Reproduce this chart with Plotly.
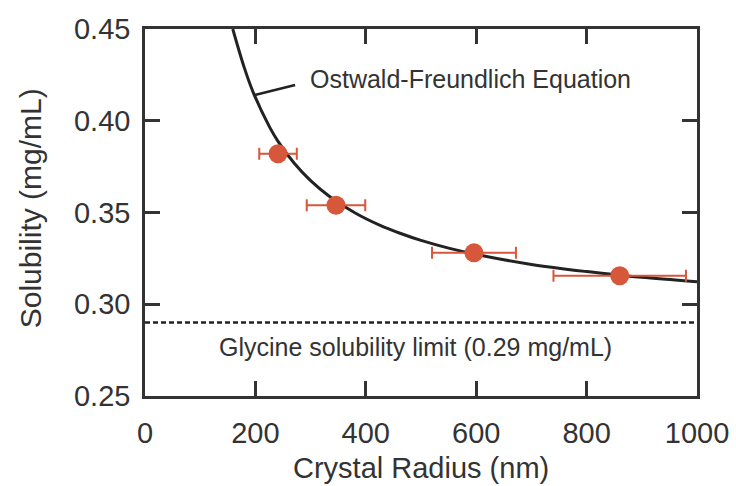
import plotly.graph_objects as go

# Measured data points (crystal radius in nm, solubility in mg/mL)
radius = [241, 346, 596, 860]
solubility = [0.382, 0.354, 0.328, 0.3155]
radius_err = [34, 53, 76, 120]

# Ostwald-Freundlich curve
curve_r = [159, 180, 196, 226, 241, 270, 300, 335, 380, 426, 462, 500, 550, 601, 700, 800, 860, 900, 1000]
curve_s = [0.450, 0.4288, 0.4155, 0.3964, 0.3888, 0.377, 0.3674, 0.3586, 0.3499, 0.343, 0.3387,
           0.3348, 0.3306, 0.3271, 0.3217, 0.3178, 0.3159, 0.3147, 0.3123]

limit_value = 0.29
limit_x = [0, 1000]

x_ticks = [0, 200, 400, 600, 800, 1000]
y_ticks = [0.25, 0.30, 0.35, 0.40, 0.45]

# leader line for the curve label (data coords)
leader_x = [199, 272]
leader_y = [0.414, 0.4195]

FONT = "Liberation Sans, Arial, Helvetica, sans-serif"
TXT = "#333333"
ORANGE = "#D6573A"
DARK = "#222222"

fig = go.Figure()

fig.add_trace(go.Scatter(x=limit_x, y=[limit_value] * len(limit_x), mode="lines",
                         line=dict(color=DARK, width=2.5, dash="5px,3px"), hoverinfo="skip"))

fig.add_trace(go.Scatter(x=curve_r, y=curve_s, mode="lines",
                         line=dict(color=DARK, width=3, shape="spline"), hoverinfo="skip"))

fig.add_trace(go.Scatter(x=leader_x, y=leader_y, mode="lines",
                         line=dict(color=DARK, width=2.5), hoverinfo="skip"))

fig.add_trace(go.Scatter(
    x=radius, y=solubility, mode="markers",
    marker=dict(color=ORANGE, size=19, line=dict(width=0)),
    error_x=dict(type="data", array=radius_err, color=ORANGE, thickness=2, width=6),
))

fig.add_annotation(x=295, y=0.4228, text="Ostwald-Freundlich Equation", showarrow=False,
                   xanchor="left", yanchor="middle", font=dict(family=FONT, size=25, color=TXT))
fig.add_annotation(x=130, y=0.2767, text="Glycine solubility limit (0.29 mg/mL)", showarrow=False,
                   xanchor="left", yanchor="middle", font=dict(family=FONT, size=25, color=TXT))

# axis titles as paper-positioned annotations
fig.add_annotation(xref="paper", yref="paper", x=0.5, y=-0.197, text="Crystal Radius (nm)",
                   showarrow=False, xanchor="center", yanchor="middle",
                   font=dict(family=FONT, size=29, color=TXT))
fig.add_annotation(xref="paper", yref="paper", x=-0.208, y=0.512, text="Solubility (mg/mL)",
                   showarrow=False, xanchor="center", yanchor="middle", textangle=-90,
                   font=dict(family=FONT, size=30, color=TXT))

axis_common = dict(
    showgrid=False, zeroline=False, showline=True, linecolor="#333333", linewidth=2.5,
    mirror="ticks", ticks="inside", ticklen=15, tickwidth=2.5, tickcolor="#333333",
    tickfont=dict(family=FONT, size=29, color=TXT), automargin=False,
)

fig.update_xaxes(range=[0, 1000], tickvals=x_ticks, ticktext=[str(v) for v in x_ticks],
                 ticklabelstandoff=9, **axis_common)
fig.update_yaxes(range=[0.25, 0.45], tickvals=y_ticks, ticktext=[f"{v:.2f}" for v in y_ticks],
                 ticklabelstandoff=6, **axis_common)

fig.update_layout(width=736, height=486, margin=dict(l=145, r=39, t=29, b=90),
                  paper_bgcolor="white", plot_bgcolor="white", showlegend=False)

fig.write_html("out.html")
